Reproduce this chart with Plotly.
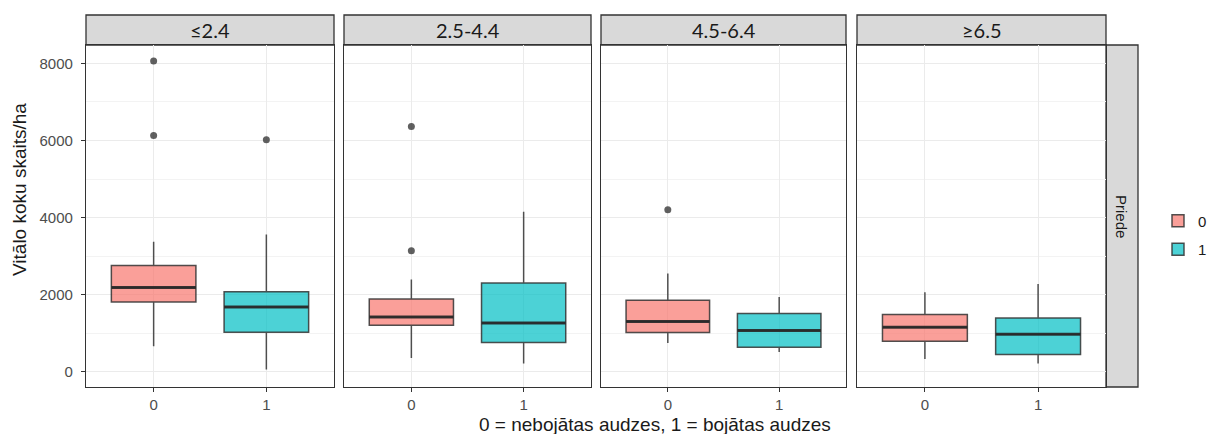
import plotly.graph_objects as go

# Stand-density classes (facet columns) and the damage flag (0 / 1)
classes = ["≤2.4", "2.5-4.4", "4.5-6.4", "≥6.5"]
groups = ["0", "1"]
species = "Priede"

# Box statistics per class, for group 0 and group 1
lower_0 = [666, 363, 752, 337]
q1_0 = [1816, 1211, 1021, 796]
median_0 = [2188, 1427, 1306, 1159]
q3_0 = [2759, 1894, 1859, 1488]
upper_0 = [3373, 2396, 2551, 2067]

lower_1 = [61, 216, 519, 216]
q1_1 = [1029, 761, 640, 450]
median_1 = [1686, 1271, 1072, 977]
q3_1 = [2076, 2309, 1514, 1401]
upper_1 = [3563, 4151, 1946, 2283]

# Outlying observations per class
outliers_0 = [[8060, 6132], [6365, 3139], [4203], []]
outliers_1 = [[6019], [], [], []]

fill_colors = ["rgba(248,118,109,0.7)", "rgba(0,191,196,0.7)"]
edge_color = "rgba(51,51,51,0.85)"
box_width = 0.75

# Panel edges in pixels on a 1212 x 434 canvas
W, H = 1212, 434
ml, mr, mt, mb = 86, 106, 45, 47
pw = W - ml - mr
ph = H - mt - mb
panel_px = [(86, 334), (344, 591), (601, 846), (857, 1106)]
domains = [((a - ml) / pw, (b - ml) / pw) for a, b in panel_px]

stats = [
    (lower_0, q1_0, median_0, q3_0, upper_0, outliers_0),
    (lower_1, q1_1, median_1, q3_1, upper_1, outliers_1),
]

fig = go.Figure()
for i, cls in enumerate(classes):
    ax = "" if i == 0 else str(i + 1)
    for g, (lo, a, m, b, hi, outs) in enumerate(stats):
        fig.add_trace(go.Box(
            x=[g], lowerfence=[lo[i]], q1=[a[i]], median=[m[i]], q3=[b[i]],
            upperfence=[hi[i]], width=box_width, whiskerwidth=0,
            fillcolor=fill_colors[g], line=dict(color=edge_color, width=1.5),
            name=groups[g], legendgroup=groups[g], showlegend=(i == 0),
            boxpoints=False, xaxis="x" + ax, yaxis="y" + ax, hoverinfo="skip",
        ))
        # thicker median bar
        fig.add_trace(go.Scatter(
            x=[g - box_width / 2, g + box_width / 2], y=[m[i], m[i]],
            mode="lines", line=dict(color="rgba(40,40,40,0.9)", width=3),
            showlegend=False, xaxis="x" + ax, yaxis="y" + ax, hoverinfo="skip",
        ))
        if outs[i]:
            fig.add_trace(go.Scatter(
                x=[g] * len(outs[i]), y=outs[i], mode="markers",
                marker=dict(color="rgba(51,51,51,0.78)", size=7),
                showlegend=False, xaxis="x" + ax, yaxis="y" + ax, hoverinfo="skip",
            ))

y_range = [-390, 8475]
tick_font = dict(family="Liberation Sans, Arial", size=15, color="#4D4D4D")
layout = dict(
    width=W, height=H,
    margin=dict(l=ml, r=mr, t=mt, b=mb, autoexpand=False),
    paper_bgcolor="white", plot_bgcolor="white",
    showlegend=True,
    legend=dict(
        x=(1158 - ml) / pw, y=(mt + ph - 235) / ph, xanchor="left", yanchor="middle",
        font=dict(family="Liberation Sans, Arial", size=15, color="#1A1A1A"),
        bgcolor="rgba(0,0,0,0)", tracegroupgap=6, itemwidth=30,
    ),
    shapes=[], annotations=[],
)

for i, cls in enumerate(classes):
    ax = "" if i == 0 else str(i + 1)
    layout["xaxis" + ax] = dict(
        domain=list(domains[i]), anchor="y" + ax, range=[-0.6, 1.6],
        tickvals=[0, 1], ticktext=groups, tickfont=tick_font,
        ticks="outside", ticklen=4, tickcolor="#333333", tickwidth=1,
        showgrid=True, gridcolor="#EBEBEB", gridwidth=1, zeroline=False,
        showline=True, mirror=True, linecolor="#333333", linewidth=1.3,
    )
    layout["yaxis" + ax] = dict(
        domain=[0, 1], anchor="x" + ax, range=y_range,
        tickvals=[0, 2000, 4000, 6000, 8000], tickfont=tick_font,
        showticklabels=(i == 0), ticks="outside" if i == 0 else "",
        ticklen=4, tickcolor="#333333", tickwidth=1, ticklabelstandoff=5,
        showgrid=True, gridcolor="#EBEBEB", gridwidth=1, zeroline=False,
        minor=dict(tickvals=[1000, 3000, 5000, 7000], showgrid=True,
                   gridcolor="#F3F3F3", gridwidth=1),
        showline=True, mirror=True, linecolor="#333333", linewidth=1.3,
    )
    # facet strip on top
    layout["shapes"].append(dict(
        type="rect", xref=f"x{ax} domain", yref=f"y{ax} domain",
        x0=0, x1=1, y0=1, y1=1 + 30 / ph,
        fillcolor="#D9D9D9", line=dict(color="#333333", width=1.3), layer="below",
    ))
    layout["annotations"].append(dict(
        xref=f"x{ax} domain", yref=f"y{ax} domain", x=0.5, y=1 + 15 / ph,
        text=cls, showarrow=False, xanchor="center", yanchor="middle",
        font=dict(family="Lato, Noto Sans", size=20, color="#1A1A1A"),
    ))

# species strip on the right side of the last panel
strip_w = 32 / (panel_px[3][1] - panel_px[3][0])
layout["shapes"].append(dict(
    type="rect", xref="x4 domain", yref="y4 domain",
    x0=1, x1=1 + strip_w, y0=0, y1=1,
    fillcolor="#D9D9D9", line=dict(color="#333333", width=1.3), layer="below",
))
layout["annotations"].append(dict(
    xref="x4 domain", yref="y4 domain", x=1 + strip_w / 2, y=0.5,
    text=species, showarrow=False, textangle=90, xanchor="center", yanchor="middle",
    font=dict(family="Liberation Sans, Arial", size=15, color="#1A1A1A"),
))

title_font = dict(family="Liberation Sans, Arial", size=19, color="#1A1A1A")
# y-axis title
layout["annotations"].append(dict(
    xref="paper", yref="paper", x=(20 - ml) / pw, y=(mt + ph - 190) / ph,
    text="Vitālo koku skaits/ha", showarrow=False, textangle=-90,
    xanchor="center", yanchor="middle", font=title_font,
))
# shared x-axis title
layout["annotations"].append(dict(
    xref="paper", yref="paper", x=(655 - ml) / pw, y=(mt + ph - 424) / ph,
    text="0 = nebojātas audzes, 1 = bojātas audzes", showarrow=False,
    xanchor="center", yanchor="middle", font=title_font,
))

fig.update_layout(**layout)
fig.write_html("out.html")
